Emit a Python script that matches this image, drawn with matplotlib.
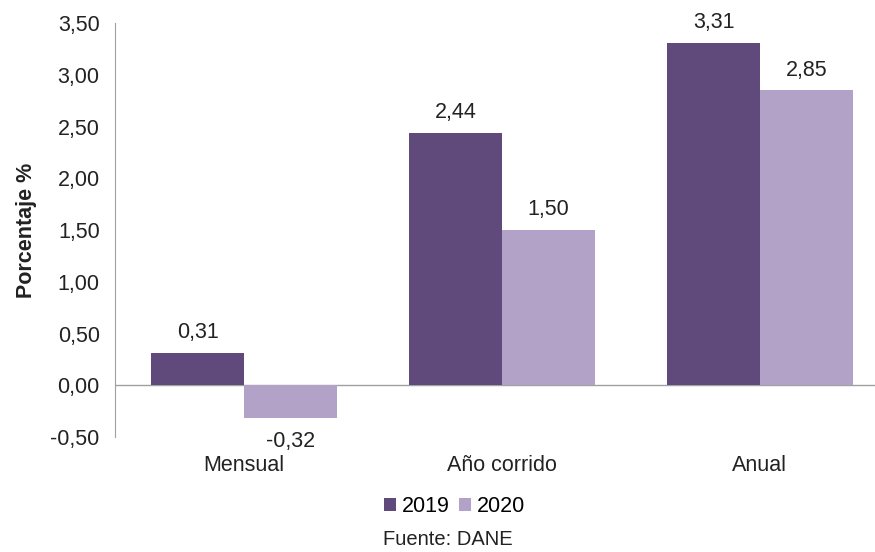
import matplotlib
matplotlib.use("Agg")
import matplotlib.pyplot as plt
import numpy as np

categories = ["Mensual", "Año corrido", "Anual"]
series_names = ["2019", "2020"]
values_2019 = [0.31, 2.44, 3.31]
values_2020 = [-0.32, 1.50, 2.85]
yticks = [-0.5, 0.0, 0.5, 1.0, 1.5, 2.0, 2.5, 3.0, 3.5]

plt.rcParams['font.family'] = ['Liberation Sans', 'DejaVu Sans']

c1 = "#604a7b"
c2 = "#b3a2c7"
txt = "#222222"
FS = 15.5
fig = plt.figure(figsize=(8.75, 5.52), dpi=100)
ax = fig.add_axes([0.1314, 0.2083, 0.8686, 0.75])

x = np.arange(len(categories))
w = 0.36
b1 = ax.bar(x - w/2, values_2019, w, color=c1, label=series_names[0])
b2 = ax.bar(x + w/2, values_2020, w, color=c2, label=series_names[1])

def fmt(v):
    return f"{v:.2f}".replace(".", ",")

for bars, vals in ((b1, values_2019), (b2, values_2020)):
    for r, v in zip(bars, vals):
        cx = r.get_x() + r.get_width()/2
        if v >= 0:
            ax.annotate(fmt(v), (cx, v), xytext=(0, 7), textcoords="offset points",
                        ha="center", va="bottom", fontsize=FS, color=txt)
        else:
            ax.annotate(fmt(v), (cx, v), xytext=(0, -9), textcoords="offset points",
                        ha="center", va="top", fontsize=FS, color=txt)

ax.set_xlim(-0.5, 2.446)
ax.set_ylim(-0.5, 3.5)
ax.set_yticks(yticks)
ax.set_yticklabels([fmt(t) for t in yticks], fontsize=FS, color=txt)
ax.set_xticks(x)
ax.set_xticklabels(categories, fontsize=FS, color=txt)
ax.tick_params(axis='both', length=0)
ax.tick_params(axis='x', pad=13)
ax.tick_params(axis='y', pad=11)

for s in ["top", "right", "bottom"]:
    ax.spines[s].set_visible(False)
ax.spines["left"].set_color("#a0a0a0")
ax.axhline(0, color="#a0a0a0", lw=1, zorder=0.5)

ax.set_ylabel("Porcentaje %", fontsize=FS, fontweight="bold", color=txt, labelpad=10)

ax.legend(loc="center", bbox_to_anchor=(0.447, -0.169), ncol=2, frameon=False,
          fontsize=FS, handlelength=0.55, handleheight=0.55, handletextpad=0.3,
          columnspacing=0.4, borderpad=0)
fig.text(0.512, 0.006, "Fuente: DANE", ha="center", va="bottom", fontsize=14.5, color=txt)

fig.savefig("out.png", dpi=100)
